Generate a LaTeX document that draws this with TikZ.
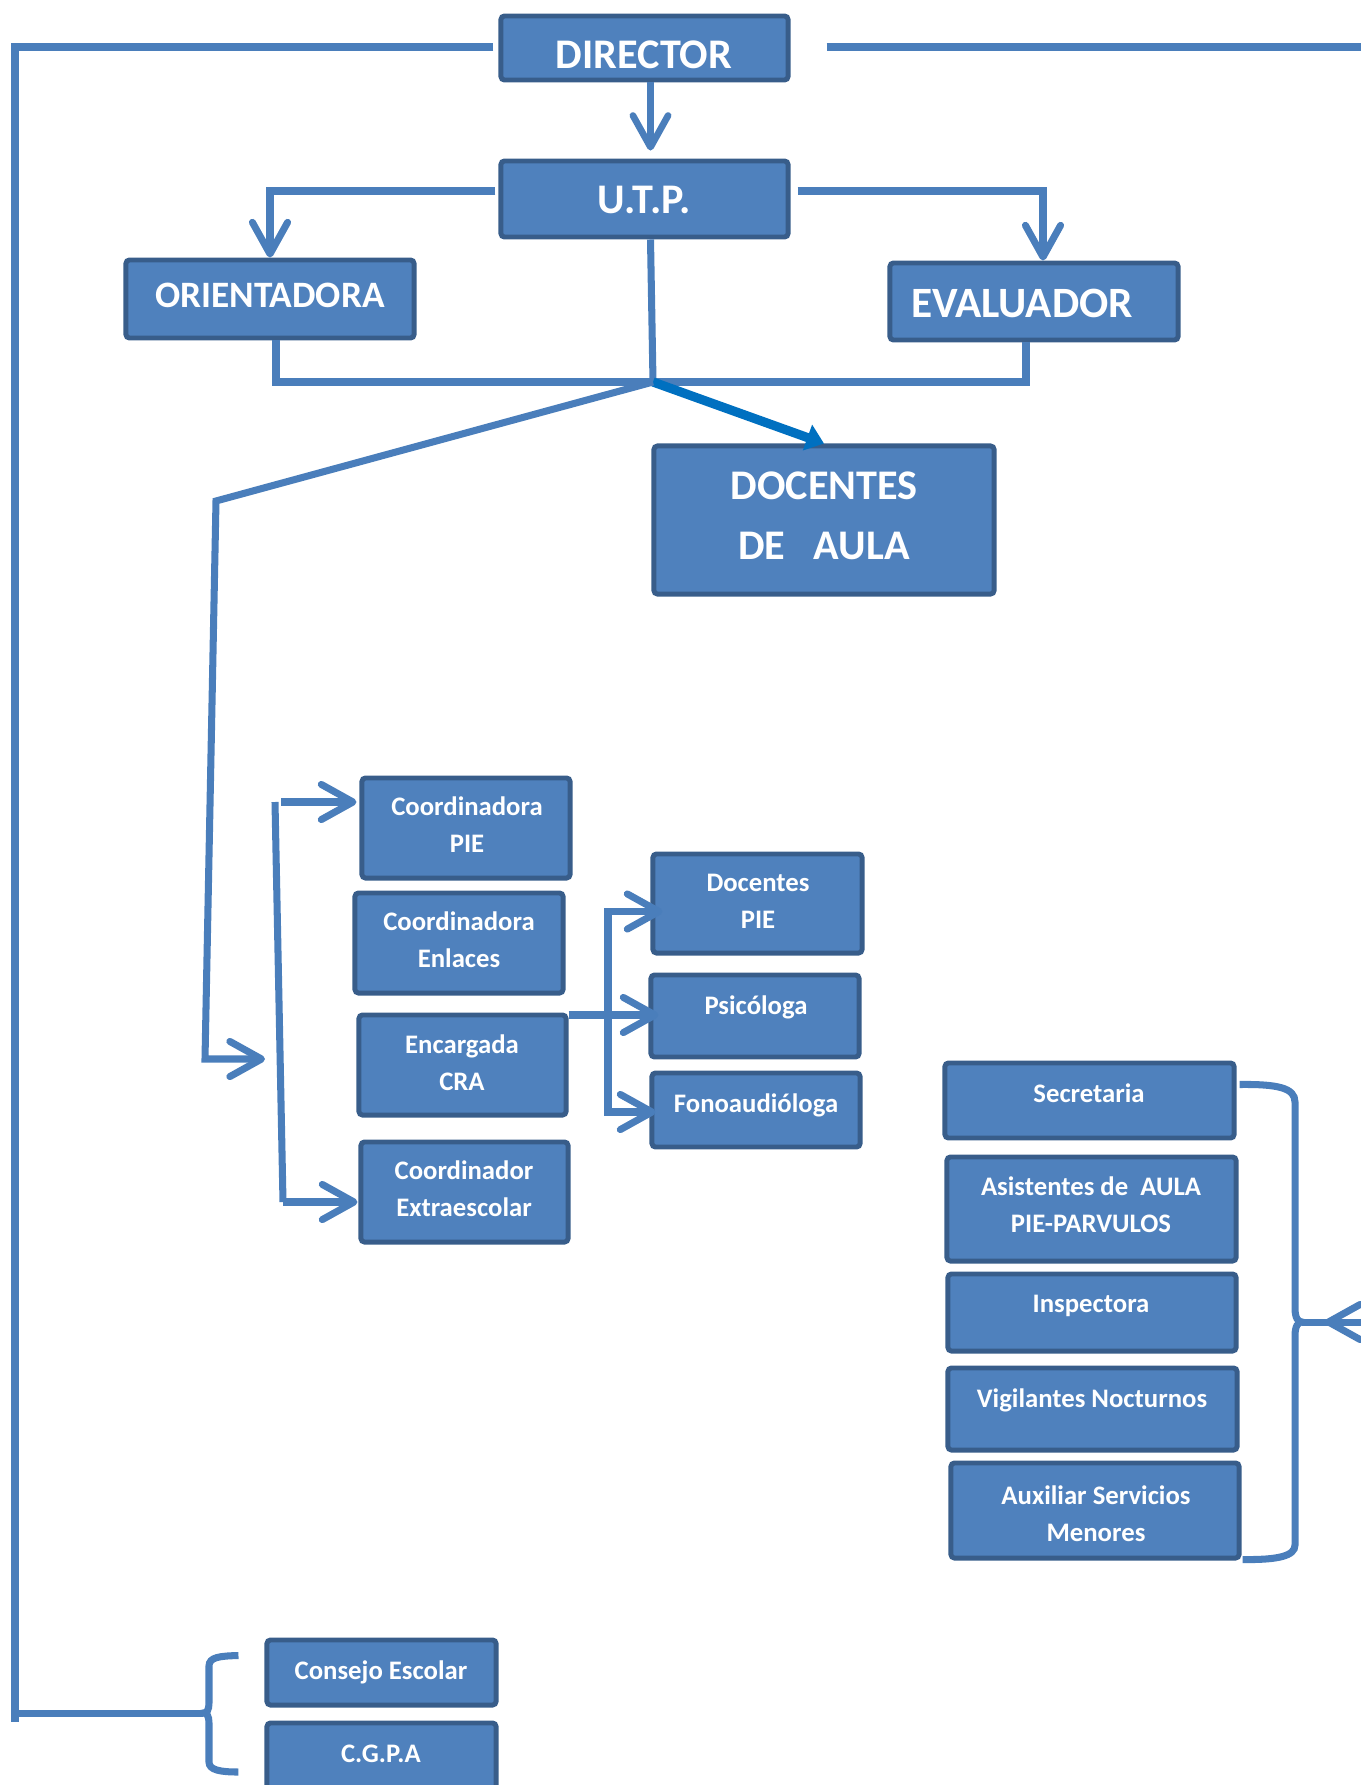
\documentclass[tikz,border=0pt]{standalone}
\usepackage{fontspec}
\setmainfont{Carlito}
\usetikzlibrary{arrows.meta,calc}
\definecolor{boxfill}{HTML}{4F81BD}
\definecolor{boxline}{HTML}{385D8A}
\definecolor{conncol}{HTML}{4A7EBB}
\definecolor{doccol}{HTML}{0070C0}
\begin{document}
\begin{tikzpicture}[x=0.01cm,y=-0.01cm,
  box/.style={draw=boxline, fill=boxfill, line width=1.4pt, rounded corners=1pt, inner sep=0pt},
  bx/.style 2 args={box, minimum width=#1, minimum height=#2},
  big/.style={text=white, font=\fontsize{12}{17}\selectfont\bfseries, align=center, inner sep=0pt},
  mid/.style={text=white, font=\fontsize{10.6}{12}\selectfont\bfseries, align=center, inner sep=0pt},
  small/.style={text=white, font=\fontsize{7.6}{10.5}\selectfont\bfseries, align=center, inner sep=0pt},
  conn/.style={draw=conncol, line width=2pt},
  tconn/.style={draw=conncol, line width=1.9pt},
  obarb/.tip={Straight Barb[length=9pt,width=10pt,round]},
  docarr/.style={draw=doccol, line width=2.6pt, -{Triangle[length=5pt,width=7.5pt]}}
]
\useasboundingbox (0,0) rectangle (1360,1785);

% boxes
\node[bx={2.87cm}{0.64cm}] (dir) at (644.5,48) {};
\node[bx={2.87cm}{0.76cm}] (utp) at (644.5,199) {};
\node[bx={2.88cm}{0.78cm}] (ori) at (270,299) {};
\node[bx={2.88cm}{0.77cm}] (eva) at (1034,301.5) {};
\node[bx={3.40cm}{1.48cm}] (doc) at (824,520) {};
\node[bx={2.08cm}{1.00cm}] (cpie) at (466,828) {};
\node[bx={2.08cm}{1.00cm}] (cenl) at (459,943) {};
\node[bx={2.07cm}{1.00cm}] (cra) at (462.5,1065) {};
\node[bx={2.07cm}{1.00cm}] (cext) at (464.5,1192) {};
\node[bx={2.09cm}{0.99cm}] (dpie) at (757.5,903.5) {};
\node[bx={2.08cm}{0.82cm}] (psi) at (755,1016) {};
\node[bx={2.08cm}{0.74cm}] (fono) at (756,1110) {};
\node[bx={2.89cm}{0.75cm}] (sec) at (1089.5,1100.5) {};
\node[bx={2.89cm}{1.04cm}] (asis) at (1091.5,1209) {};
\node[bx={2.88cm}{0.77cm}] (insp) at (1092,1312.5) {};
\node[bx={2.89cm}{0.82cm}] (vig) at (1092.5,1409) {};
\node[bx={2.88cm}{0.95cm}] (aux) at (1095,1510.5) {};
\node[bx={2.29cm}{0.65cm}] (cons) at (381.5,1672.5) {};
\node[bx={2.29cm}{0.76cm}] (cgpa) at (381.5,1761) {};

% texts
\node[big] (dirT) at (644,55) {DIRECTOR};
\node[big] (utpT) at (644,200) {U.T.P.};
\node[mid] (oriT) at (270,295) {ORIENTADORA};
\node[big, font=\fontsize{12.3}{17}\selectfont\bfseries] (evaT) at (1022,303) {EVALUADOR};
\node[big] (docT) at (824,516) {DOCENTES\\DE\ \ \ AULA};
\node[small] (cpieT) at (467,825) {Coordinadora\\PIE};
\node[small] (cenlT) at (459,940) {Coordinadora\\Enlaces};
\node[small] (craT) at (462,1063) {Encargada\\CRA};
\node[small] (cextT) at (464,1189) {Coordinador\\Extraescolar};
\node[small] (dpieT) at (758,901) {Docentes\\PIE};
\node[small] (psiT) at (756,1007) {Psicóloga};
\node[small] (fonoT) at (756,1105) {Fonoaudióloga};
\node[small] (secT) at (1089,1093) {Secretaria};
\node[small] (asisT) at (1091,1205) {Asistentes de\ \ AULA\\PIE-PARVULOS};
\node[small] (inspT) at (1091,1306) {Inspectora};
\node[small] (vigT) at (1092,1400) {Vigilantes Nocturnos};
\node[small] (auxT) at (1096,1514) {Auxiliar Servicios\\Menores};
\node[small] (consT) at (381,1672) {Consejo Escolar};
\node[small] (cgpaT) at (381,1754) {C.G.P.A};

% top lines
\coordinate (dirL) at ($(dir.west)+(-5,-1)$);
\coordinate (lc1) at (15,47);
\coordinate (lc2) at (15,1722);
\coordinate (lc3) at (15,1713);
\coordinate (dirR) at ($(dir.east)+(36,-1)$);
\coordinate (rEdge) at (1365,47);
\draw[conn] (dirL) -- (lc1) -- (lc2);
\draw[conn] (dirR) -- (rEdge);

% director -> utp
\draw[tconn, -{obarb}] ($(dir.south)+(6,0)$) -- ($(utp.north)+(6,-8)$);
% utp -> orientadora / evaluador
\draw[conn, -{obarb}] ($(utp.west)+(-3,-8)$) -| (ori.north);
\draw[conn, -{obarb}] ($(utp.east)+(7,-8)$) -| ($(eva.north)+(9,0)$);
% junction
\coordinate (J) at (653,382);
\draw[conn] ($(utp.south)+(6,0)$) -- (J);
\draw[conn] ($(ori.south)+(6,0)$) |- (J) -| ($(eva.south)+(-8,0)$);
\draw[docarr] (J) -- (doc.north);
% long branch down
\coordinate (b1) at (216,501);
\coordinate (b2) at (205,1059);
\coordinate (b3) at (265,1059);
\draw[conn, -{obarb}] (J) -- (b1) -- (b2) -- (b3);
% second vertical
\coordinate (v2t) at (275,802);
\coordinate (v2b) at (283,1202);
\draw[conn] (v2t) -- (v2b);
\draw[conn, -{obarb}] ($(v2t)+(6,0)$) -- ($(cpie.west)+(-3,-26)$);
\draw[conn, -{obarb}] (v2b) -- ($(cext.west)+(-1,10)$);
% CRA branch
\coordinate (v3b) at (608,1112);
\draw[conn, -{obarb}] ($(cra.east)+(0,-50)$) -- ($(psi.west)+(10,-1)$);
\draw[conn, {obarb}-{obarb}] ($(dpie.west)+(12,8)$) -| (v3b) -- ($(fono.west)+(6,2)$);

% right brace
\coordinate (rbT) at ($(sec.east)+(3,-16)$);
\coordinate (rbB) at ($(aux.east)+(1,49)$);
\coordinate (rbtip) at (1302,1322);
\coordinate (rArr) at (1325,1322);
\coordinate (rE) at (1365,1322);
\draw[conn] (rbT) .. controls (1278,1084) and (1295,1088) .. (1295,1102) -- (1295,1308) .. controls (1295,1318) and (1298,1322) .. (rbtip) .. controls (1298,1322) and (1295,1326) .. (1295,1336) -- (1295,1545) .. controls (1295,1556) and (1278,1560) .. (rbB);
\draw[conn] (rbtip) -- (rE);
\draw[conn, -{obarb}] (rE) -- (rArr);

% left brace
\coordinate (lbT) at ($(cons.west)+(-26,-17)$);
\coordinate (lbB) at ($(cgpa.west)+(-26,11)$);
\coordinate (lbtip) at (203,1713);
\draw[conn] (lbT) .. controls (220,1656) and (209,1657) .. (209,1666) -- (209,1703) .. controls (209,1710) and (207,1713) .. (lbtip) .. controls (207,1713) and (209,1716) .. (209,1723) -- (209,1762) .. controls (209,1770) and (220,1772) .. (lbB);
\draw[conn] (lc3) -- (lbtip);
\end{tikzpicture}
\end{document}
